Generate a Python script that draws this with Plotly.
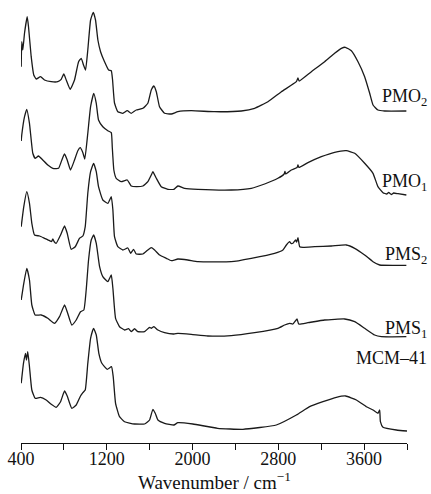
import plotly.graph_objects as go

# ---------------- data (wavenumber cm^-1, stacked absorbance a.u.) ----------------
pmo2_wn = [402, 407, 417, 433, 458, 470, 495, 519, 542, 582, 619, 682, 743, 775, 799, 822, 859, 899, 937, 962,
           983, 1002, 1023, 1049, 1074, 1095, 1117, 1142, 1179, 1217, 1242, 1254, 1272, 1303, 1350, 1391, 1428,
           1475, 1537, 1583, 1615, 1639, 1662, 1692, 1739, 1802, 1863, 1988, 2206, 2455, 2579, 2703, 2828, 2968,
           2983, 2994, 3108, 3232, 3325, 3388, 3425, 3481, 3543, 3605, 3652, 3683, 3729, 3792, 3994]
pmo2_abs = [376.3, 401.3, 393, 410, 426.3, 416.3, 386.3, 368, 364, 366.3, 363, 361.3, 361.3, 363.7, 369, 363,
            353.7, 363, 381.3, 384.7, 378, 373, 393, 423, 430.7, 423, 403, 391.3, 381.3, 373, 372.3, 363, 340,
            331.3, 329.7, 332.3, 329.7, 333, 334.7, 339.7, 353, 357, 351.3, 336.3, 329.7, 329, 331.3, 332.3,
            331.3, 332, 334.7, 341.3, 351.3, 361.3, 365, 362, 371.3, 381.3, 389.7, 394.7, 395.7, 392.3, 381.3,
            366.3, 349.7, 338, 333, 332, 332]

pmo1_wn = [402, 407, 433, 454, 479, 510, 532, 563, 603, 650, 697, 750, 781, 806, 831, 862, 899, 930, 952, 977,
           995, 1023, 1049, 1079, 1102, 1123, 1163, 1210, 1242, 1251, 1266, 1288, 1335, 1391, 1428, 1475, 1537,
           1583, 1615, 1630, 1662, 1708, 1770, 1826, 1863, 1926, 2050, 2361, 2548, 2672, 2796, 2854, 2862, 2868,
           2921, 2975, 2983, 2992, 3076, 3201, 3325, 3434, 3512, 3605, 3683, 3729, 3776, 3811, 3829, 3854, 3876,
           3916, 3994]
pmo1_abs = [302, 308, 326.3, 333.7, 319.7, 289.7, 284.7, 287, 283, 278, 274.7, 274.7, 283, 289, 283, 273, 283,
            292.3, 295.3, 290.3, 284, 309.7, 336.3, 349.7, 339.7, 323, 316.3, 312.3, 310.3, 296.3, 273, 264.7,
            261.3, 263, 257, 256.3, 257, 261.3, 268, 271.3, 264.7, 256.3, 253.7, 253.7, 257, 254.7, 253.7, 253,
            254.7, 259, 264.7, 269, 271.5, 269, 273, 275.5, 278, 275.5, 280.3, 286.3, 290.7, 292.3, 289.7,
            279.7, 269.7, 256.3, 250.3, 249, 250.5, 248.5, 250, 249.3, 248]

pms2_wn = [402, 426, 454, 479, 501, 526, 573, 619, 666, 685, 697, 708, 728, 769, 806, 831, 868, 906, 946, 977,
           999, 1023, 1049, 1077, 1102, 1123, 1163, 1210, 1242, 1257, 1272, 1303, 1350, 1397, 1422, 1450, 1475,
           1537, 1583, 1615, 1646, 1692, 1755, 1802, 1863, 1956, 2050, 2361, 2548, 2765, 2843, 2875, 2905, 2919,
           2936, 2961, 2971, 2983, 2999, 3030, 3139, 3295, 3434, 3512, 3605, 3683, 3745, 3994]
pms2_abs = [216.3, 236.3, 251.3, 239.7, 219.7, 208, 207, 204.7, 202.3, 201.5, 204, 201.5, 199.7, 208, 217,
            209.7, 193.7, 196.3, 204.7, 207, 216.3, 249.7, 271.3, 279.7, 271.3, 256.3, 243, 239.7, 246.3, 233,
            206.3, 196.3, 193, 195, 189.7, 193.7, 189, 189, 193, 195.3, 193, 188, 184.7, 182.3, 184, 183, 181.3,
            181.3, 184.7, 189.7, 193, 198, 201.3, 199.5, 199.7, 203, 201, 205.3, 196.3, 195.7, 196.3, 197, 198,
            194.7, 188, 181.3, 178, 177.7]

pms1_wn = [402, 426, 454, 479, 501, 532, 588, 650, 713, 759, 806, 831, 874, 915, 955, 986, 1008, 1030, 1055, 1077,
           1102, 1133, 1163, 1210, 1242, 1257, 1282, 1319, 1366, 1403, 1428, 1459, 1490, 1552, 1599, 1615, 1639,
           1677, 1739, 1826, 1863, 1988, 2143, 2361, 2579, 2796, 2859, 2905, 2936, 2974, 2990, 3076, 3232, 3419,
           3512, 3605, 3698, 3761, 3994]
pms1_abs = [143, 159.7, 174.7, 163, 138, 128, 128, 124.7, 119.7, 126.3, 138, 131.3, 118, 123, 131.3, 133, 153,
            183, 203, 208, 199.7, 176.3, 166.3, 161.3, 168, 154.7, 124.7, 116.3, 113, 114.3, 111.3, 114.3, 111.3,
            111.3, 115.7, 114.7, 116.3, 113, 110.3, 109, 109.7, 108.7, 107, 107.3, 110.3, 114.7, 118, 119.7, 119,
            124, 119, 120.3, 123, 124, 121.3, 114.7, 108, 106.3, 106.3]

mcm_wn = [402, 423, 442, 451, 463, 479, 501, 532, 582, 635, 682, 728, 769, 806, 831, 874, 915, 955, 977, 999, 1023,
          1049, 1077, 1102, 1126, 1154, 1204, 1244, 1260, 1282, 1319, 1366, 1459, 1552, 1599, 1630, 1652, 1677,
          1739, 1826, 1863, 2003, 2234, 2470, 2781, 2968, 3092, 3216, 3341, 3428, 3528, 3621, 3683, 3729, 3745,
          3752, 3776, 3901, 4000]
mcm_abs = [59.7, 79.7, 89.7, 83, 91.3, 76.3, 53, 44.7, 45.7, 43, 38.7, 35.7, 41.3, 52, 47, 34.7, 38, 47, 50.3,
           53, 79.7, 104.7, 114.7, 108, 89.7, 79.7, 73.7, 76.3, 66.3, 39.7, 26.3, 21.3, 19, 19, 23, 33.7, 29.7, 23,
           19.7, 18, 20.3, 19, 14.7, 13.7, 18, 28, 36.3, 41.3, 45.7, 47, 43, 36.3, 33, 29.7, 33, 21.3, 15.7, 13, 12]

series_names = ["PMO<sub>2</sub>", "PMO<sub>1</sub>", "PMS<sub>2</sub>", "PMS<sub>1</sub>", "MCM–41"]
series_wn = [pmo2_wn, pmo1_wn, pms2_wn, pms1_wn, mcm_wn]
series_abs = [pmo2_abs, pmo1_abs, pms2_abs, pms1_abs, mcm_abs]
label_levels = [346, 261, 188, 114, 85]   # label heights in a.u.

major_ticks = [400, 1200, 2000, 2800, 3600]
major_labels = ["400", "1200", "2000", "2800", "3600"]
minor_ticks = [800, 1600, 2400, 3200, 4000]

# ---------------- figure ----------------
FONT = "Liberation Serif, Times New Roman, serif"
fig = go.Figure()
for wn, ab in zip(series_wn, series_abs):
    fig.add_trace(go.Scatter(x=wn, y=ab, mode="lines",
                             line=dict(color="#1a1a1a", width=1.3, shape="spline", smoothing=0.4),
                             showlegend=False, hoverinfo="skip"))

for name, lvl in zip(series_names, label_levels):
    fig.add_annotation(x=1.058, xref="paper", y=lvl, yref="y", text=name, showarrow=False,
                       xanchor="right", yanchor="middle",
                       font=dict(family=FONT, size=18, color="#111"))

# axis title placed as an annotation below the tick labels
fig.add_annotation(x=0.5, xref="paper", y=-0.085, yref="paper", yanchor="middle", xanchor="center",
                   text="Wavenumber / cm<sup>−1</sup>", showarrow=False,
                   font=dict(family=FONT, size=19, color="#111"))

fig.update_layout(
    width=431, height=494,
    margin=dict(l=21, r=24, t=0, b=51),
    paper_bgcolor="white", plot_bgcolor="white",
    font=dict(family=FONT, color="#111"),
    xaxis=dict(range=[400, 4000], tickvals=major_ticks, ticktext=major_labels,
               ticks="outside", ticklen=6, tickwidth=1, tickcolor="#111", ticklabelstandoff=-7,
               minor=dict(tickvals=minor_ticks, ticks="outside", ticklen=6, tickwidth=1, tickcolor="#111",
                          showgrid=False),
               showline=True, linecolor="#111", linewidth=1, showgrid=False, zeroline=False,
               tickfont=dict(family=FONT, size=18, color="#111")),
    yaxis=dict(range=[0, 443], visible=False, showgrid=False, zeroline=False),
)

fig.write_html("out.html")
